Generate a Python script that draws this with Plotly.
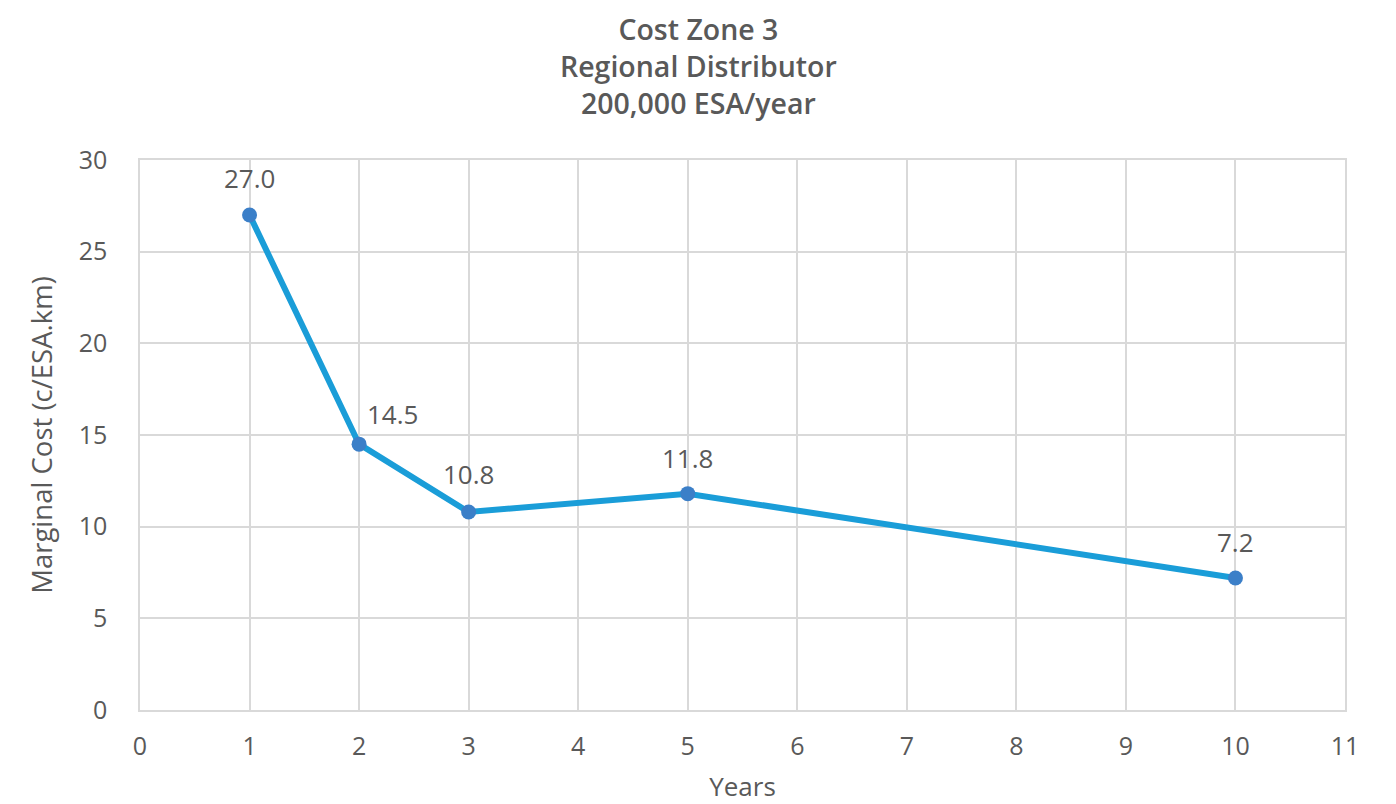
import plotly.graph_objects as go

# Marginal cost by contract length
years = [1, 2, 3, 5, 10]
cost = [27.0, 14.5, 10.8, 11.8, 7.2]
x_ticks = list(range(0, 12))
y_ticks = [0, 5, 10, 15, 20, 25, 30]

# label offsets (px) for each point's value text
label_dx = [0, 33, 0, 0, 0]
label_dy = [37, 30, 38, 36, 36]

FONT = "Open Sans"
GREY = "#595959"
ML, MR, MT, MB = 140, 51, 160, 94
W, H = 1396, 804
PLOT_W = W - ML - MR
PLOT_H = H - MT - MB

fig = go.Figure()
fig.add_trace(go.Scatter(
    x=years, y=cost, mode="lines+markers",
    line=dict(color="#1a9dd8", width=6),
    marker=dict(color="#3b7fc8", size=15, line=dict(width=0)),
    hoverinfo="x+y", showlegend=False,
))

for xv, yv, dx, dy in zip(years, cost, label_dx, label_dy):
    fig.add_annotation(
        x=xv, y=yv, text=f"{yv:.1f}", showarrow=False,
        xshift=dx, yshift=dy,
        font=dict(family=FONT, size=26, color=GREY),
    )

# three-line chart heading, centred on the whole figure
fig.add_annotation(
    xref="paper", yref="paper",
    x=(W / 2 - ML) / PLOT_W, y=1 + 152 / PLOT_H,
    xanchor="center", yanchor="top", showarrow=False,
    text="Cost Zone 3<br>Regional Distributor<br>200,000 ESA/year",
    font=dict(family=FONT, size=28.5, color=GREY, weight=600),
)

fig.update_layout(
    width=W, height=H,
    margin=dict(l=ML, r=MR, t=MT, b=MB),
    paper_bgcolor="#ffffff", plot_bgcolor="#ffffff",
    font=dict(family=FONT, color=GREY),
    xaxis=dict(
        range=[0, 11], tickvals=x_ticks, ticktext=[str(v) for v in x_ticks],
        automargin=False,
        showgrid=True, gridcolor="#d9d9d9", gridwidth=1.5,
        showline=True, linecolor="#d9d9d9", linewidth=1.5, mirror=True,
        zeroline=False, ticks="", ticklabelstandoff=13,
        tickfont=dict(family=FONT, size=25, color=GREY),
        title=dict(text="Years", standoff=20, font=dict(family=FONT, size=26, color=GREY)),
    ),
    yaxis=dict(
        range=[0, 30], tickvals=y_ticks, ticktext=[str(v) for v in y_ticks],
        automargin=False,
        showgrid=True, gridcolor="#d9d9d9", gridwidth=1.5,
        showline=True, linecolor="#d9d9d9", linewidth=1.5, mirror=True,
        zeroline=False, ticks="", ticklabelstandoff=26,
        tickfont=dict(family=FONT, size=25, color=GREY),
        title=dict(text="Marginal Cost (c/ESA.km)", standoff=18, font=dict(family=FONT, size=27.5, color=GREY)),
    ),
)

fig.write_html("out.html")
